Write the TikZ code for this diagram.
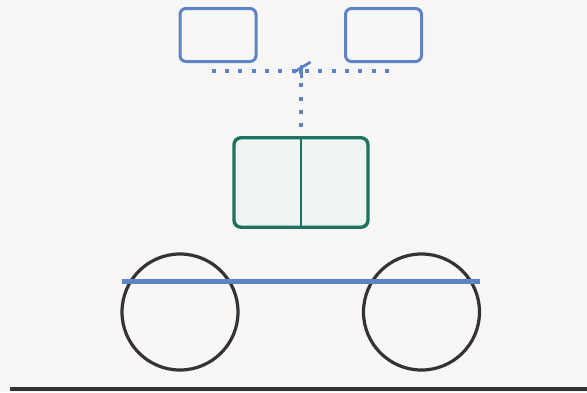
\documentclass[tikz,border=0pt]{standalone}
\definecolor{blueC}{HTML}{5B83C6}
\definecolor{greenC}{HTML}{1E7260}
\definecolor{greenF}{HTML}{EEF4F2}
\definecolor{darkC}{HTML}{333333}
\definecolor{bgC}{HTML}{F7F6F4}
\begin{document}
\begin{tikzpicture}[x=1pt,y=-1pt,
  bluec/.style={draw=blueC, line width=3pt},
  topbox/.style={draw=blueC, line width=3pt, rounded corners=6pt},
  dotline/.style={draw=blueC, line width=3.6pt, dash pattern=on 4pt off 9.33pt},
  greenbox/.style={draw=greenC, fill=greenF, line width=3.4pt, rounded corners=7pt},
  wheel/.style={draw=darkC, line width=3.2pt},
]
\fill[bgC] (0,0) rectangle (587,392);
\useasboundingbox (0,0) rectangle (587,392);
% top boxes
\draw[topbox] (180,8.5) rectangle (256,61.5);
\draw[topbox] (345.5,8.5) rectangle (421.5,61.5);
\coordinate (hl) at (211.7,71);
\coordinate (hr) at (392,71);
\coordinate (j) at (301,70);
\coordinate (jb) at (301,129);
\draw[dotline] (hl) -- (hr);
\draw[dotline] (j) -- (jb);
\coordinate (t1) at (293.5,72.5);
\coordinate (t2) at (310.5,62);
\draw[bluec, line width=2.8pt] (t1) -- (t2);
\coordinate (s1) at (301,65);
\coordinate (s2) at (301,78);
\draw[bluec, line width=3pt] (s1) -- (s2);
% green box
\node[greenbox, minimum width=134pt, minimum height=89.5pt, inner sep=0pt] (g) at (301,182.5) {};
\draw[draw=greenC, line width=2.4pt] (g.north) -- (g.south);
% wheels
\node[wheel, circle, minimum size=116pt, inner sep=0pt] (w1) at (180,312) {};
\node[wheel, circle, minimum size=116pt, inner sep=0pt] (w2) at (421.5,312) {};
\coordinate (bl) at (121.5,281.3);
\coordinate (br) at (480,281.3);
\draw[draw=blueC, line width=4.6pt] (bl) -- (br);
\coordinate (g1) at (9.5,389);
\coordinate (g2) at (587,389);
\draw[darkC, line width=3.2pt] (g1) -- (g2);
\end{tikzpicture}
\end{document}
